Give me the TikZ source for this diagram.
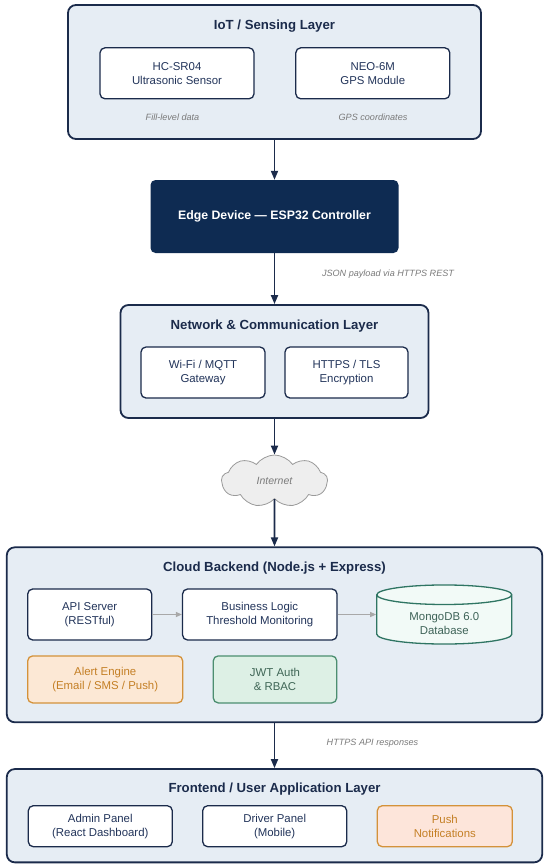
\documentclass[tikz,border=0pt]{standalone}
\usepackage{fontspec}
\setmainfont{Liberation Sans}
\usetikzlibrary{arrows.meta,shapes.geometric,shapes.symbols}
\definecolor{navy}{HTML}{1B2B4B}
\definecolor{navytext}{HTML}{22345A}
\definecolor{layerbg}{HTML}{E6EDF4}
\definecolor{edgebg}{HTML}{0E2B52}
\definecolor{notegray}{HTML}{7A7A7A}
\definecolor{linkgray}{HTML}{A8A8A8}
\definecolor{cloudgray}{HTML}{9A9A9A}
\definecolor{cloudbg}{HTML}{EEEEEE}
\definecolor{dbteal}{HTML}{2F7563}
\definecolor{dbbg}{HTML}{F2FAF7}
\definecolor{dbtext}{HTML}{3E6358}
\definecolor{alertline}{HTML}{D4923A}
\definecolor{alertbg}{HTML}{FCE8D5}
\definecolor{alerttext}{HTML}{C47F25}
\definecolor{authline}{HTML}{4C8E70}
\definecolor{authbg}{HTML}{DDF0E5}
\definecolor{authtext}{HTML}{3F6656}
\definecolor{pushbg}{HTML}{FDE5DA}

\begin{document}
\begin{tikzpicture}[
    x=1pt, y=-1pt,
    layer/.style={rectangle, draw=navy, fill=layerbg, line width=1.8pt,
                  rounded corners=8pt, inner sep=0pt},
    title/.style={font=\fontsize{13.2}{15}\selectfont\bfseries, text=navy},
    box/.style={rectangle, draw=navy, fill=white, line width=1.3pt,
                rounded corners=5pt, inner sep=0pt, align=center,
                text=navytext, font=\fontsize{11.4}{14}\selectfont},
    alertbox/.style={box, draw=alertline, fill=alertbg, text=alerttext},
    authbox/.style={box, draw=authline, fill=authbg, text=authtext},
    note/.style={font=\fontsize{9.1}{11}\selectfont\itshape, text=notegray},
    flow/.style={-{Triangle[length=9pt,width=7pt]}, line width=1.8pt, draw=navy},
    link/.style={-{Triangle[length=6pt,width=5pt]}, line width=1.2pt, draw=linkgray}
]
  \useasboundingbox (0,0) rectangle (550,868);

  % IoT / sensing layer
  \node[layer, minimum width=413pt, minimum height=134pt] (iot) at (274.5,72) {};
  \node[title] (iottitle) at (274.5,26) {IoT / Sensing Layer};
  \node[box, minimum width=154pt, minimum height=51pt] (sonar) at (177,73.3)
    {HC-SR04\\Ultrasonic Sensor};
  \node[box, minimum width=154pt, minimum height=51pt] (gps) at (372.8,73.3)
    {NEO-6M\\GPS Module};
  \node[note] (fillnote) at (172.5,117) {Fill-level data};
  \node[note] (gpsnote) at (373,117) {GPS coordinates};

  % Edge device
  \node[rectangle, fill=edgebg, rounded corners=5pt, minimum width=248pt,
        minimum height=73pt, text=white,
        font=\fontsize{12.3}{14}\selectfont\bfseries] (edge) at (274.5,216.5)
    {Edge Device --- ESP32 Controller};
  \node[note] (jsonnote) at (388,274) {JSON payload via HTTPS REST};

  % Network layer
  \node[layer, minimum width=308pt, minimum height=113pt] (net) at (274.5,361.5) {};
  \node[title] (nettitle) at (274.5,325.7) {Network \& Communication Layer};
  \node[box, minimum width=124pt, minimum height=51pt] (wifi) at (203,372.5)
    {Wi-Fi / MQTT\\Gateway};
  \node[box, minimum width=123pt, minimum height=51pt] (tls) at (346.5,372.5)
    {HTTPS / TLS\\Encryption};

  % Internet
  \node[cloud, cloud puffs=9, cloud puff arc=110, aspect=2.2, draw=cloudgray,
        fill=cloudbg, line width=0.8pt, minimum width=106pt, minimum height=52pt,
        inner sep=0pt, font=\fontsize{10.5}{12}\selectfont\itshape,
        text=notegray] (inet) at (274.5,481)
    {Internet};

  % Cloud backend
  \node[layer, minimum width=535.4pt, minimum height=175pt] (backend) at (274.5,634.8) {};
  \node[title] (betitle) at (274.5,567.7) {Cloud Backend (Node.js + Express)};
  \node[box, minimum width=124pt, minimum height=51pt] (api) at (89.7,614.5)
    {API Server\\(RESTful)};
  \node[box, minimum width=154.5pt, minimum height=51pt] (logic) at (259.8,614.5)
    {Business Logic\\Threshold Monitoring};
  \node[cylinder, shape border rotate=90, aspect=0.28, draw=dbteal, fill=dbbg,
        line width=1.3pt, minimum width=135pt, minimum height=52.5pt, inner sep=0pt,
        align=center, text=dbtext, font=\fontsize{11.4}{14}\selectfont] (mongo) at (444.3,619.7)
    {\rule{0pt}{15pt}MongoDB 6.0\\Database};
  \node[alertbox, minimum width=155pt, minimum height=47pt] (alert) at (105.2,679.4)
    {Alert Engine\\(Email / SMS / Push)};
  \node[authbox, minimum width=123.5pt, minimum height=47pt] (jwt) at (275,679.4)
    {JWT Auth\\\& RBAC};
  \node[note] (apinote) at (372.5,743.3) {HTTPS API responses};

  % Frontend layer
  \node[layer, minimum width=535.4pt, minimum height=93.3pt] (front) at (274.5,815.7) {};
  \node[title] (fetitle) at (274.5,789) {Frontend / User Application Layer};
  \node[box, minimum width=144pt, minimum height=41pt] (admin) at (100.3,826.2)
    {Admin Panel\\(React Dashboard)};
  \node[box, minimum width=144pt, minimum height=41pt] (driver) at (274.7,826.2)
    {Driver Panel\\(Mobile)};
  \node[alertbox, fill=pushbg, minimum width=135pt, minimum height=41pt] (push) at (444.8,826.2)
    {Push\\Notifications};

  % Main data flow
  \draw[flow] (iot) -- (edge);
  \draw[flow] (edge) -- (net);
  \draw[flow] (net) -- (inet);
  \draw[flow] (inet) -- (backend);
  \draw[flow] (backend) -- (front);

  % Inside the backend
  \draw[link] (api) -- (logic);
  \draw[link] (logic.east) -- (logic.east -| mongo.west);
\end{tikzpicture}
\end{document}
